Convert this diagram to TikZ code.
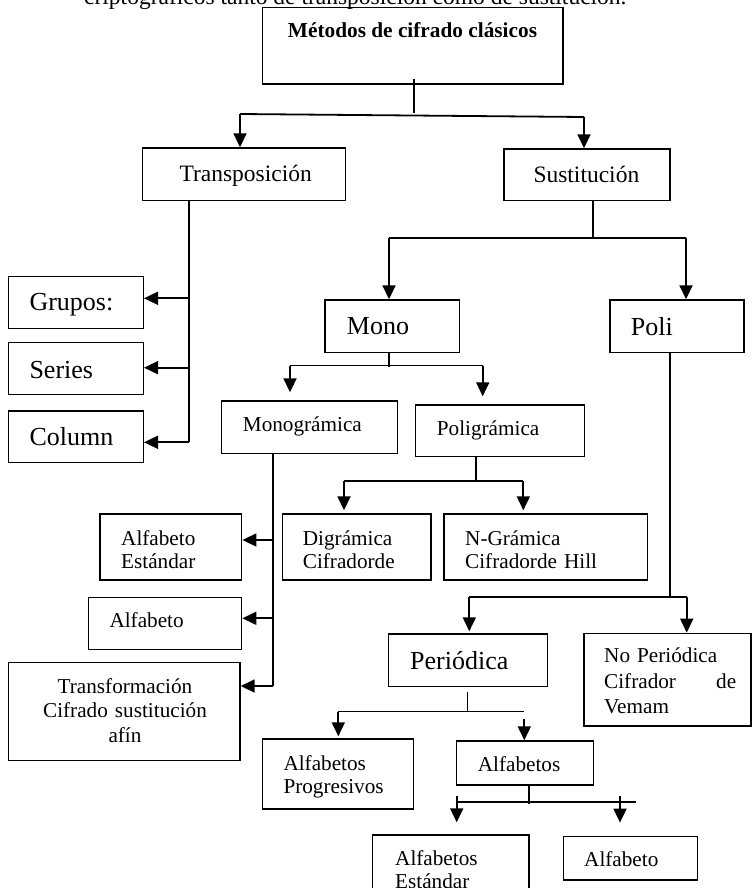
\documentclass[tikz,border=0pt]{standalone}
\usepackage{fontspec}
\setmainfont{Liberation Serif}
\usetikzlibrary{arrows.meta}
\tikzset{
  box/.style={draw, line width=1.4pt, inner sep=0pt},
  conn/.style={line width=1.8pt},
  thinln/.style={line width=1.2pt},
  arr/.style={conn, -{Triangle[length=14pt,width=13pt]}},
  tbig/.style={inner sep=0pt, anchor=base west, font=\fontsize{26}{28}\selectfont},
  tmed/.style={inner sep=0pt, anchor=base west, font=\fontsize{23.5}{26}\selectfont},
  tsml/.style={inner sep=0pt, anchor=base west, font=\fontsize{21.2}{23.3}\selectfont},
}
\begin{document}
\begin{tikzpicture}[x=1pt,y=-1pt]
\useasboundingbox (0,0) rectangle (752,888);
\clip (0,0) rectangle (752,888);
\fill[white] (0,0) rectangle (752,888);

% cut-off text line at the top
\node[tmed] (cut) at (84,5) {criptográficos tanto de transposición como de sustitución.};

% boxes
\node[box, minimum width=300.3pt, minimum height=76.7pt] (top) at (412.85,45.65) {};
\node[box, minimum width=203pt, minimum height=52.7pt] (trans) at (244.2,174.35) {};
\node[box, minimum width=166pt, minimum height=51.7pt] (sust) at (587,174.85) {};
\node[box, minimum width=135pt, minimum height=51.6pt] (grupos) at (75.8,302.5) {};
\node[box, minimum width=135pt, minimum height=51.6pt] (series) at (75.8,368.5) {};
\node[box, minimum width=135pt, minimum height=51.7pt] (column) at (75.8,436.85) {};
\node[box, minimum width=134.3pt, minimum height=52.3pt] (mono) at (392.15,326.15) {};
\node[box, minimum width=134pt, minimum height=52.3pt] (poli) at (677,326.15) {};
\node[box, minimum width=176pt, minimum height=52.3pt] (monogr) at (309.7,427.15) {};
\node[box, minimum width=168.6pt, minimum height=51.7pt] (poligr) at (500,430.85) {};
\node[box, minimum width=141.7pt, minimum height=66pt] (alfest) at (170.85,547) {};
\node[box, minimum width=153.4pt, minimum height=51.6pt] (alfa1) at (165,623.5) {};
\node[box, minimum width=231.7pt, minimum height=98pt] (transf) at (124.15,711.7) {};
\node[box, minimum width=148.7pt, minimum height=66pt] (digr) at (356.65,547) {};
\node[box, minimum width=203.7pt, minimum height=66pt] (ngram) at (545.85,547) {};
\node[box, minimum width=159.4pt, minimum height=52.7pt] (period) at (468,660.35) {};
\node[box, minimum width=167pt, minimum height=92.7pt] (noper) at (667.5,679.65) {};
\node[box, minimum width=151pt, minimum height=70pt] (alfprog) at (337.8,774) {};
\node[box, minimum width=136.6pt, minimum height=44pt] (alfs) at (525,763) {};
\node[box, minimum width=156.5pt, minimum height=70pt] (alfest2) at (450.75,870) {};
\node[box, minimum width=134pt, minimum height=43.3pt] (alfa2) at (630.3,858.35) {};

% texts
\node[inner sep=0pt, anchor=base, font=\fontsize{21.3}{24}\selectfont\bfseries] (ttop) at (412.5,38) {Métodos de cifrado clásicos};
\node[tmed] (ttrans) at (179.3,181.7) {Transposición};
\node[tmed] (tsust) at (533.3,182.7) {Sustitución};
\node[tbig] (tgrupos) at (29.3,310.7) {Grupos:};
\node[tbig] (tseries) at (29.3,378) {Series};
\node[tbig] (tcolumn) at (29.3,445.7) {Column};
\node[tbig] (tmono) at (346.7,334) {Mono};
\node[tbig] (tpoli) at (630.7,335.7) {Poli};
\node[tsml] (tmonogr) at (242.7,431.7) {Monográmica};
\node[tsml] (tpoligr) at (436.7,435) {Poligrámica};
\node[tsml, text width=120pt, align=left] (talfest) at (121,545) {Alfabeto\\Estándar};
\node[tsml] (talfa1) at (109.3,627.7) {Alfabeto};
\node[inner sep=0pt, anchor=base, text width=220pt, align=center, font=\fontsize{21.2}{24.5}\selectfont] (ttransf) at (125,693.3) {Transformación\\Cifrado sustitución\\afín};
\node[tsml, text width=125pt, align=left] (tdigr) at (302.7,545) {Digrámica\\Cifradorde};
\node[tsml, text width=175pt, align=left] (tngram) at (465,545) {N-Grámica\\Cifradorde Hill};
\node[tbig] (tperiod) at (410,669.3) {Periódica};
\node[tsml, text width=132pt, align=left, font=\fontsize{21.2}{25.3}\selectfont] (tnoper) at (604,662.7) {No Periódica\\Cifrador\hfill de\\Vemam};
\node[tsml, text width=125pt, align=left] (talfprog) at (283.3,770) {Alfabetos\\Progresivos};
\node[tsml] (talfs) at (477.7,771) {Alfabetos};
\node[tsml, text width=125pt, align=left] (talfest2) at (395,865) {Alfabetos\\Estándar};
\node[tsml] (talfa2) at (584,866.7) {Alfabeto};

% connectors: top
\coordinate (jA) at (240,114);
\coordinate (jB) at (584,117);
\draw[thinln] (414,0 |- top.south) ++(0,-6) -- (414,113);
\draw[conn] (jA) -- (jB);
\draw[arr] (jA) -- (jA |- trans.north);
\draw[arr] (jB) -- (jB |- sust.north);

% Transposición
\coordinate (jT) at (189.3,442.3);
\coordinate (jG) at (189.3,298.3);
\coordinate (jS) at (189.3,367.7);
\draw[conn] (189.3,0 |- trans.south) -- (jT);
\draw[arr] (jT) -- (column.east |- jT);
\draw[arr] (jG) -- (grupos.east |- jG);
\draw[arr] (jS) -- (series.east |- jS);

% Sustitución
\coordinate (jU) at (592.7,237.7);
\coordinate (jM) at (389,237.7);
\coordinate (jP) at (686,237.7);
\draw[conn] (sust.south -| jU) -- (jU);
\draw[conn] (jM) -- (jP);
\draw[arr] (jM) -- (jM |- mono.north);
\draw[arr] (jP) -- (jP |- poli.north);

% Mono
\coordinate (jMs) at (389,366.7);
\coordinate (jMa) at (290,365.7);
\coordinate (jMb) at (482.7,365.7);
\draw[thinln] (mono.south -| jMs) -- (jMs);
\draw[thinln] (jMa) -- (jMb);
\draw[arr, shorten >=8pt] (jMa) -- (jMa |- monogr.north);
\draw[arr, shorten >=8pt] (jMb) -- (jMb |- poligr.north);

% Monográmica
\coordinate (jN) at (272.7,686);
\coordinate (jNa) at (272.7,540);
\coordinate (jNb) at (272.7,618.3);
\draw[conn] (monogr.south -| jN) -- (jN);
\draw[arr] (jN) -- (transf.east |- jN);
\draw[arr] (jNa) -- (alfest.east |- jNa);
\draw[arr] (jNb) -- (alfa1.east |- jNb);

% Poligrámica
\coordinate (jQ) at (475.7,481);
\coordinate (jQa) at (344,481);
\coordinate (jQb) at (523.3,481);
\draw[conn] (poligr.south -| jQ) -- (jQ);
\draw[conn] (jQa) -- (jQb);
\draw[arr, shorten >=3pt] (jQa) -- (jQa |- digr.north);
\draw[arr, shorten >=3pt] (jQb) -- (jQb |- ngram.north);

% Poli
\coordinate (jR) at (670,597.3);
\coordinate (jRa) at (469.3,597.3);
\coordinate (jRb) at (686.7,597.3);
\draw[conn] (poli.south -| jR) -- (jR);
\draw[conn] (jRa) -- (jRb);
\draw[arr, shorten >=2pt] (jRa) -- (jRa |- period.north);
\draw[arr] (jRb) -- (jRb |- noper.north);

% Periódica
\coordinate (jV) at (467.3,711.7);
\coordinate (jVs) at (467.3,691.7);
\coordinate (jVa) at (338.3,711.7);
\coordinate (jVb) at (524.3,711.7);
\coordinate (jVc) at (524.3,718.5);
\draw[thinln] (jVs) -- (jV);
\draw[thinln] (jVa) -- (jVb);
\draw[arr, shorten >=2pt] (jVa) -- (jVa |- alfprog.north);
\draw[arr] (jVc) -- (jVc |- alfs.north);

% Alfabetos
\coordinate (jW) at (529,804.3);
\coordinate (jWa) at (456.7,802.3);
\coordinate (jWb) at (636,802.3);
\coordinate (jWc) at (456.7,796);
\coordinate (jWd) at (620,796);
\draw[thinln] (alfs.south -| jW) -- (jW);
\draw[conn] (jWa) -- (jWb);
\draw[arr, shorten >=12pt] (jWc) -- (jWc |- alfest2.north);
\draw[arr, shorten >=13.4pt] (jWd) -- (jWd |- alfa2.north);
\end{tikzpicture}
\end{document}
